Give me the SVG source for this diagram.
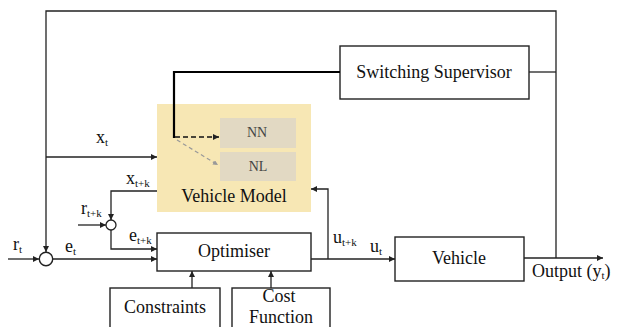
<svg xmlns="http://www.w3.org/2000/svg" width="620" height="327" viewBox="0 0 620 327">
  <style>
    text { font-family: "Liberation Serif", "Times New Roman", serif; fill: #111; }
    .lbl { font-size: 18px; }
    .sub { font-size: 11px; }
    .box { fill: #fff; stroke: #222; stroke-width: 1.4; }
    .wire { fill: none; stroke: #222; stroke-width: 1.3; }
    .inner { fill: #e2d9c3; }
    .innerText { font-size: 14px; fill: #444; }
  </style>
  <defs>
    <marker id="arrow" viewBox="0 0 10 10" refX="10" refY="5" markerWidth="6" markerHeight="6" markerUnits="userSpaceOnUse" orient="auto">
      <path d="M0,0 L10,5 L0,10 z" fill="#222"/>
    </marker>
    <marker id="arrowGray" viewBox="0 0 10 10" refX="10" refY="5" markerWidth="5" markerHeight="5" markerUnits="userSpaceOnUse" orient="auto">
      <path d="M0,0 L10,5 L0,10 z" fill="#999"/>
    </marker>
  </defs>

  <!-- vehicle model container with its two sub-models -->
  <g id="vehicle-model">
    <rect x="157" y="104" width="154" height="108" fill="#f7e7b4"/>
    <text class="lbl" x="234" y="202" text-anchor="middle">Vehicle Model</text>
  </g>
  <g id="nn">
    <rect class="inner" x="220" y="118" width="76" height="30"/>
    <text class="innerText" x="257" y="137" text-anchor="middle">NN</text>
  </g>
  <g id="nl">
    <rect class="inner" x="220" y="152" width="76" height="29"/>
    <text class="innerText" x="258" y="171" text-anchor="middle">NL</text>
  </g>

  <g id="switching-supervisor">
    <rect class="box" x="340" y="46" width="189" height="53"/>
    <text class="lbl" x="434" y="78" text-anchor="middle">Switching Supervisor</text>
  </g>
  <g id="optimiser">
    <rect class="box" x="157" y="233" width="154" height="38"/>
    <text class="lbl" x="234" y="257" text-anchor="middle">Optimiser</text>
  </g>
  <g id="vehicle">
    <rect class="box" x="395" y="237" width="129" height="44"/>
    <text class="lbl" x="459" y="264" text-anchor="middle">Vehicle</text>
  </g>
  <g id="constraints">
    <rect class="box" x="110" y="288" width="110" height="45"/>
    <text class="lbl" x="165" y="313" text-anchor="middle">Constraints</text>
  </g>
  <g id="cost-function">
    <rect class="box" x="232" y="288" width="98" height="45"/>
    <text class="lbl" x="279" y="302" text-anchor="middle">Cost</text>
    <text class="lbl" x="281" y="323" text-anchor="middle">Function</text>
  </g>
  <g id="sum-main">
    <circle cx="46" cy="259" r="6.7" fill="#fff" stroke="#222" stroke-width="1.4"/>
  </g>
  <g id="sum-pred">
    <circle cx="111" cy="225" r="5" fill="#fff" stroke="#222" stroke-width="1.3"/>
  </g>

  <g id="connectors">
    <!-- outer output feedback -->
    <polyline class="wire" points="556,258 556,11 46,11 46,252" marker-end="url(#arrow)"/>
    <!-- supervisor links -->
    <line class="wire" x1="529" y1="72" x2="556" y2="72"/>
    <polyline fill="none" stroke="#000" stroke-width="2.2" points="340,72 174,72 174,138"/>
    <line stroke="#111" stroke-width="1.6" stroke-dasharray="5,3" x1="175" y1="137" x2="219" y2="137" marker-end="url(#arrow)"/>
    <line stroke="#999" stroke-width="1.2" stroke-dasharray="4,3" x1="177" y1="140" x2="218" y2="165" marker-end="url(#arrowGray)"/>
    <!-- state x_t -->
    <line class="wire" x1="46" y1="157" x2="157" y2="157" marker-end="url(#arrow)"/>
    <!-- predicted state back to prediction comparator -->
    <polyline class="wire" points="157,191 111,191 111,220" marker-end="url(#arrow)"/>
    <line class="wire" x1="78" y1="225" x2="106" y2="225" marker-end="url(#arrow)"/>
    <polyline class="wire" points="111,230 111,249 157,249" marker-end="url(#arrow)"/>
    <!-- reference and error -->
    <line class="wire" x1="8" y1="259" x2="39" y2="259" marker-end="url(#arrow)"/>
    <line class="wire" x1="53" y1="259" x2="157" y2="259" marker-end="url(#arrow)"/>
    <!-- cost inputs -->
    <line class="wire" x1="192" y1="288" x2="192" y2="271" marker-end="url(#arrow)"/>
    <line class="wire" x1="271" y1="288" x2="271" y2="271" marker-end="url(#arrow)"/>
    <!-- control output -->
    <line class="wire" x1="311" y1="259" x2="395" y2="259" marker-end="url(#arrow)"/>
    <polyline class="wire" points="328,259 328,189 311,189" marker-end="url(#arrow)"/>
    <!-- plant output -->
    <line class="wire" x1="524" y1="258" x2="603" y2="258" marker-end="url(#arrow)"/>
  </g>

  <!-- signal labels -->
  <text class="lbl" x="96" y="143">x<tspan class="sub" dy="3">t</tspan></text>
  <text class="lbl" x="126" y="184">x<tspan class="sub" dy="3">t+k</tspan></text>
  <text class="lbl" x="81" y="214">r<tspan class="sub" dy="3">t+k</tspan></text>
  <text class="lbl" x="129" y="241">e<tspan class="sub" dy="3">t+k</tspan></text>
  <text class="lbl" x="13" y="250">r<tspan class="sub" dy="3">t</tspan></text>
  <text class="lbl" x="65" y="252">e<tspan class="sub" dy="3">t</tspan></text>
  <text class="lbl" x="333" y="243">u<tspan class="sub" dy="3">t+k</tspan></text>
  <text class="lbl" x="370" y="252">u<tspan class="sub" dy="3">t</tspan></text>
  <text class="lbl" x="532" y="277">Output (y<tspan class="sub" dy="2">t</tspan><tspan dy="-2">)</tspan></text>
</svg>
